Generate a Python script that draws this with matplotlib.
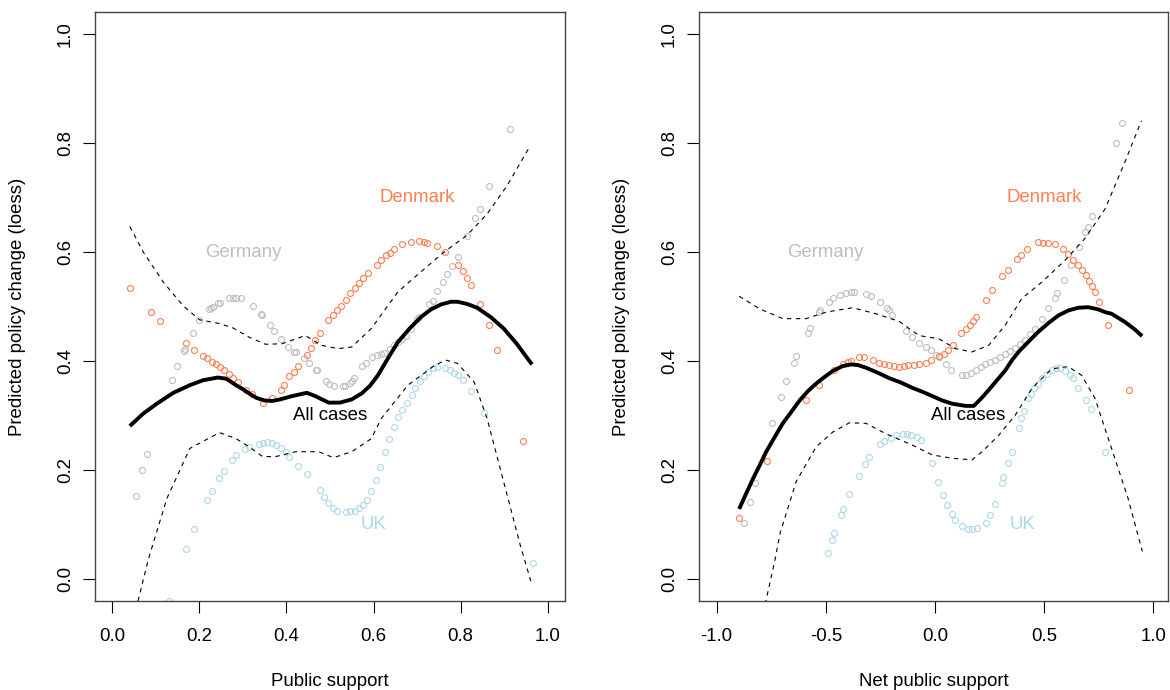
import matplotlib
matplotlib.use("Agg")
import matplotlib.pyplot as plt

plt.rcParams["font.family"] = ["Liberation Sans", "DejaVu Sans"]

# colours (R names: coral, grey, lightblue)
col_dk = "#FF7F50"
col_de = "#BEBEBE"
col_uk = "#ADD8E6"

# ---- left panel: public support ----
ps_de_x = [0.055, 0.069, 0.080, 0.136, 0.149, 0.165, 0.166, 0.185, 0.200, 0.222, 0.227, 0.231,
           0.242, 0.248, 0.269, 0.276, 0.284, 0.295, 0.324, 0.341, 0.343, 0.362, 0.371, 0.388,
           0.403, 0.418, 0.422, 0.440, 0.451, 0.468, 0.471, 0.491, 0.497, 0.510, 0.531, 0.535,
           0.545, 0.550, 0.555, 0.574, 0.582, 0.597, 0.607, 0.617, 0.624, 0.637, 0.647, 0.656,
           0.665, 0.675, 0.685, 0.700, 0.705, 0.728, 0.736, 0.747, 0.759, 0.768, 0.781, 0.793,
           0.814, 0.834, 0.844, 0.865, 0.913]
ps_de_y = [0.153, 0.201, 0.230, 0.365, 0.391, 0.419, 0.423, 0.452, 0.475, 0.496, 0.498, 0.500,
           0.507, 0.507, 0.515, 0.515, 0.515, 0.515, 0.502, 0.487, 0.484, 0.467, 0.455, 0.440,
           0.426, 0.417, 0.417, 0.406, 0.396, 0.383, 0.383, 0.363, 0.359, 0.355, 0.355, 0.355,
           0.360, 0.363, 0.370, 0.391, 0.396, 0.408, 0.411, 0.414, 0.415, 0.423, 0.429, 0.435,
           0.441, 0.447, 0.459, 0.478, 0.481, 0.504, 0.511, 0.528, 0.545, 0.559, 0.575, 0.591,
           0.629, 0.663, 0.679, 0.721, 0.825]

ps_dk_x = [0.040, 0.088, 0.109, 0.169, 0.188, 0.208, 0.217, 0.229, 0.238, 0.248, 0.257, 0.269,
           0.278, 0.289, 0.306, 0.320, 0.345, 0.366, 0.388, 0.394, 0.405, 0.417, 0.427, 0.447,
           0.457, 0.466, 0.476, 0.495, 0.506, 0.515, 0.525, 0.536, 0.547, 0.557, 0.566, 0.576,
           0.588, 0.607, 0.618, 0.629, 0.637, 0.647, 0.665, 0.686, 0.705, 0.715, 0.724, 0.745,
           0.764, 0.795, 0.806, 0.815, 0.825, 0.844, 0.865, 0.884, 0.943]
ps_dk_y = [0.535, 0.490, 0.474, 0.433, 0.421, 0.410, 0.405, 0.399, 0.394, 0.390, 0.384, 0.377,
           0.370, 0.361, 0.347, 0.339, 0.324, 0.332, 0.348, 0.356, 0.372, 0.381, 0.391, 0.412,
           0.424, 0.438, 0.452, 0.476, 0.485, 0.493, 0.502, 0.513, 0.525, 0.534, 0.543, 0.552,
           0.562, 0.577, 0.586, 0.594, 0.599, 0.605, 0.614, 0.618, 0.620, 0.618, 0.617, 0.612,
           0.601, 0.577, 0.566, 0.552, 0.539, 0.505, 0.466, 0.420, 0.254]

ps_uk_x = [0.130, 0.169, 0.188, 0.217, 0.228, 0.246, 0.257, 0.274, 0.285, 0.304, 0.314, 0.337,
           0.346, 0.356, 0.366, 0.377, 0.388, 0.398, 0.405, 0.427, 0.447, 0.476, 0.487, 0.495,
           0.506, 0.515, 0.536, 0.547, 0.557, 0.567, 0.576, 0.586, 0.595, 0.606, 0.616, 0.626,
           0.636, 0.646, 0.656, 0.666, 0.677, 0.688, 0.696, 0.707, 0.717, 0.726, 0.736, 0.747,
           0.764, 0.776, 0.785, 0.795, 0.806, 0.825, 0.853, 0.967]
ps_uk_y = [-0.040, 0.055, 0.093, 0.145, 0.161, 0.186, 0.198, 0.219, 0.228, 0.239, 0.243, 0.249,
           0.250, 0.251, 0.250, 0.246, 0.240, 0.233, 0.225, 0.208, 0.194, 0.164, 0.151, 0.140,
           0.131, 0.126, 0.124, 0.125, 0.126, 0.131, 0.137, 0.146, 0.161, 0.183, 0.206, 0.234,
           0.258, 0.280, 0.297, 0.310, 0.324, 0.338, 0.351, 0.363, 0.373, 0.381, 0.388, 0.389,
           0.388, 0.383, 0.379, 0.374, 0.366, 0.345, 0.305, 0.030]

ps_fit_x = [0.040, 0.071, 0.102, 0.140, 0.178, 0.208, 0.242, 0.261, 0.284, 0.299, 0.314, 0.330,
            0.349, 0.367, 0.386, 0.413, 0.447, 0.466, 0.497, 0.523, 0.550, 0.573, 0.592, 0.610,
            0.633, 0.656, 0.683, 0.709, 0.732, 0.755, 0.778, 0.793, 0.815, 0.838, 0.869, 0.899,
            0.929, 0.964]
ps_fit_y = [0.281, 0.304, 0.322, 0.342, 0.356, 0.365, 0.370, 0.368, 0.356, 0.349, 0.341, 0.333,
            0.328, 0.327, 0.330, 0.336, 0.342, 0.336, 0.324, 0.324, 0.330, 0.341, 0.355, 0.374,
            0.405, 0.435, 0.460, 0.481, 0.495, 0.504, 0.509, 0.509, 0.505, 0.498, 0.481, 0.460,
            0.432, 0.394]

ps_hi_x = [0.040, 0.071, 0.117, 0.162, 0.200, 0.246, 0.277, 0.314, 0.352, 0.390, 0.443, 0.481,
           0.519, 0.550, 0.595, 0.656, 0.709, 0.762, 0.815, 0.861, 0.907, 0.960]
ps_hi_y = [0.647, 0.600, 0.545, 0.502, 0.476, 0.469, 0.461, 0.444, 0.431, 0.432, 0.447, 0.429,
           0.423, 0.426, 0.460, 0.527, 0.564, 0.600, 0.631, 0.670, 0.722, 0.795]

ps_lo_x = [0.040, 0.057, 0.082, 0.125, 0.178, 0.246, 0.284, 0.314, 0.345, 0.375, 0.421, 0.474,
           0.508, 0.550, 0.595, 0.618, 0.679, 0.740, 0.766, 0.793, 0.831, 0.861, 0.899, 0.937, 0.964]
ps_lo_y = [-0.120, -0.046, 0.035, 0.148, 0.240, 0.269, 0.258, 0.243, 0.225, 0.225, 0.234, 0.234,
           0.223, 0.234, 0.258, 0.295, 0.356, 0.392, 0.402, 0.396, 0.362, 0.295, 0.179, 0.063, -0.010]

# ---- right panel: net public support ----
np_de_x = [-0.874, -0.849, -0.826, -0.745, -0.707, -0.681, -0.646, -0.635, -0.582, -0.572, -0.533,
           -0.525, -0.486, -0.468, -0.433, -0.407, -0.384, -0.369, -0.316, -0.293, -0.252, -0.220,
           -0.210, -0.195, -0.134, -0.103, -0.073, -0.043, -0.020, 0.003, 0.018, 0.049, 0.075,
           0.122, 0.140, 0.163, 0.186, 0.209, 0.231, 0.254, 0.277, 0.300, 0.322, 0.345, 0.368,
           0.391, 0.414, 0.437, 0.459, 0.490, 0.520, 0.550, 0.558, 0.591, 0.622, 0.660, 0.687,
           0.700, 0.721, 0.829, 0.858]
np_de_y = [0.104, 0.142, 0.176, 0.287, 0.335, 0.363, 0.397, 0.410, 0.452, 0.461, 0.490, 0.493,
           0.509, 0.515, 0.522, 0.525, 0.527, 0.526, 0.524, 0.520, 0.509, 0.498, 0.493, 0.484,
           0.455, 0.444, 0.433, 0.426, 0.420, 0.412, 0.408, 0.394, 0.383, 0.374, 0.375, 0.378,
           0.384, 0.390, 0.394, 0.398, 0.402, 0.408, 0.413, 0.419, 0.425, 0.431, 0.439, 0.450,
           0.459, 0.478, 0.497, 0.515, 0.525, 0.548, 0.576, 0.610, 0.637, 0.646, 0.667, 0.800,
           0.836]

np_dk_x = [-0.897, -0.768, -0.590, -0.533, -0.461, -0.423, -0.400, -0.385, -0.347, -0.324, -0.283,
           -0.255, -0.233, -0.210, -0.187, -0.164, -0.141, -0.122, -0.096, -0.073, -0.043, -0.017,
           0.018, 0.041, 0.061, 0.082, 0.120, 0.140, 0.160, 0.174, 0.190, 0.234, 0.262, 0.305,
           0.335, 0.376, 0.396, 0.422, 0.471, 0.497, 0.520, 0.550, 0.585, 0.611, 0.634, 0.654,
           0.672, 0.691, 0.706, 0.718, 0.733, 0.753, 0.791, 0.890]
np_dk_y = [0.113, 0.217, 0.328, 0.356, 0.383, 0.394, 0.399, 0.400, 0.407, 0.408, 0.403, 0.396,
           0.394, 0.393, 0.391, 0.390, 0.391, 0.393, 0.393, 0.394, 0.397, 0.402, 0.409, 0.414,
           0.420, 0.429, 0.451, 0.459, 0.467, 0.473, 0.481, 0.512, 0.531, 0.557, 0.568, 0.588,
           0.594, 0.606, 0.618, 0.617, 0.617, 0.614, 0.606, 0.596, 0.586, 0.576, 0.567, 0.558,
           0.547, 0.538, 0.527, 0.508, 0.467, 0.348]

np_uk_x = [-0.491, -0.473, -0.461, -0.430, -0.422, -0.392, -0.349, -0.321, -0.304, -0.252, -0.233,
           -0.202, -0.179, -0.146, -0.126, -0.108, -0.081, -0.065, -0.015, 0.015, 0.037, 0.056,
           0.076, 0.094, 0.125, 0.152, 0.170, 0.193, 0.234, 0.251, 0.274, 0.305, 0.312, 0.335,
           0.353, 0.383, 0.394, 0.406, 0.426, 0.440, 0.452, 0.472, 0.490, 0.513, 0.535, 0.555,
           0.573, 0.596, 0.619, 0.634, 0.657, 0.690, 0.713, 0.781]
np_uk_y = [0.048, 0.072, 0.084, 0.117, 0.129, 0.156, 0.189, 0.211, 0.225, 0.249, 0.254, 0.260,
           0.264, 0.267, 0.267, 0.265, 0.261, 0.255, 0.214, 0.179, 0.155, 0.136, 0.119, 0.108,
           0.097, 0.093, 0.093, 0.094, 0.104, 0.118, 0.138, 0.176, 0.188, 0.214, 0.234, 0.278,
           0.295, 0.308, 0.332, 0.340, 0.351, 0.358, 0.369, 0.377, 0.383, 0.388, 0.387, 0.382,
           0.375, 0.369, 0.351, 0.328, 0.312, 0.234]

np_fit_x = [-0.897, -0.864, -0.833, -0.803, -0.773, -0.734, -0.697, -0.658, -0.620, -0.582, -0.544,
            -0.506, -0.468, -0.423, -0.385, -0.354, -0.316, -0.263, -0.210, -0.157, -0.103, -0.058,
            -0.012, 0.033, 0.079, 0.125, 0.140, 0.178, 0.208, 0.246, 0.284, 0.322, 0.353, 0.383,
            0.429, 0.474, 0.520, 0.566, 0.611, 0.657, 0.702, 0.748, 0.779, 0.809, 0.870, 0.916, 0.949]
np_fit_y = [0.129, 0.158, 0.185, 0.209, 0.234, 0.261, 0.286, 0.307, 0.328, 0.345, 0.359,
            0.371, 0.382, 0.391, 0.394, 0.393, 0.388, 0.379, 0.369, 0.361, 0.351, 0.344,
            0.336, 0.328, 0.322, 0.319, 0.318, 0.318, 0.330, 0.347, 0.365, 0.383, 0.402, 0.417,
            0.436, 0.454, 0.470, 0.484, 0.493, 0.498, 0.499, 0.495, 0.490, 0.487, 0.472, 0.458, 0.446]

np_hi_x = [-0.897, -0.803, -0.697, -0.590, -0.499, -0.377, -0.271, -0.164, -0.073, 0.018, 0.094,
           0.170, 0.246, 0.322, 0.398, 0.490, 0.596, 0.687, 0.779, 0.870, 0.946]
np_hi_y = [0.519, 0.496, 0.478, 0.478, 0.490, 0.498, 0.487, 0.473, 0.447, 0.441, 0.423, 0.417,
           0.429, 0.466, 0.515, 0.545, 0.585, 0.625, 0.679, 0.765, 0.841]

np_lo_x = [-0.897, -0.778, -0.733, -0.710, -0.636, -0.544, -0.468, -0.392, -0.316, -0.225, -0.103,
           -0.012, 0.079, 0.170, 0.216, 0.292, 0.368, 0.444, 0.535, 0.611, 0.672, 0.733, 0.809,
           0.885, 0.950]
np_lo_y = [-0.260, -0.046, 0.035, 0.084, 0.179, 0.243, 0.270, 0.287, 0.286, 0.267, 0.246, 0.228,
           0.222, 0.219, 0.234, 0.264, 0.301, 0.350, 0.386, 0.390, 0.374, 0.332, 0.240, 0.148, 0.051]

y_ticks = [0.0, 0.2, 0.4, 0.6, 0.8, 1.0]
ps_ticks = [0.0, 0.2, 0.4, 0.6, 0.8, 1.0]
np_ticks = [-1.0, -0.5, 0.0, 0.5, 1.0]

FS = 13.4
W, H = 1170, 690
fig = plt.figure(figsize=(W / 100, H / 100), dpi=100)
ax1 = fig.add_axes([95 / W, (H - 601.1) / H, 470 / W, 588.9 / H])
ax2 = fig.add_axes([699.2 / W, (H - 601.1) / H, 469.1 / W, 588.9 / H])


def draw_panel(ax, pts, fit, hi, lo, labels, xlim, xticks, xlabel):
    for (x, y, c) in pts:
        ax.plot(x, y, "o", ms=4.3, mfc="none", mec=c, mew=0.8, zorder=2)
    ax.plot(hi[0], hi[1], color="black", lw=0.8, dashes=(4, 4), zorder=3)
    ax.plot(lo[0], lo[1], color="black", lw=0.8, dashes=(4, 4), zorder=3)
    ax.plot(fit[0], fit[1], color="black", lw=2.8, solid_capstyle="butt",
            solid_joinstyle="round", zorder=4)
    for (tx, ty, s, c) in labels:
        ax.text(tx, ty, s, color=c, fontsize=FS, ha="center", va="center", zorder=5)
    ax.set_xlim(*xlim)
    ax.set_ylim(-0.04, 1.04)
    ax.set_xticks(xticks)
    ax.set_xticklabels([f"{t:.1f}" for t in xticks], fontsize=FS)
    ax.set_yticks(y_ticks)
    ax.set_yticklabels([f"{t:.1f}" for t in y_ticks], fontsize=FS, rotation=90, va="center")
    ax.tick_params(axis="x", direction="out", length=8.4, width=0.8, pad=11)
    ax.tick_params(axis="y", direction="out", length=8.4, width=0.8, pad=6.8)
    for sp in ax.spines.values():
        sp.set_color("#444444")
        sp.set_linewidth(1.0)
    ax.set_xlabel(xlabel, fontsize=FS)
    ax.set_ylabel("Predicted policy change (loess)", fontsize=FS)
    ax.xaxis.set_label_coords(0.5, -0.122)
    ax.yaxis.set_label_coords(-0.147, 0.5)


draw_panel(
    ax1,
    [(ps_de_x, ps_de_y, col_de), (ps_dk_x, ps_dk_y, col_dk), (ps_uk_x, ps_uk_y, col_uk)],
    (ps_fit_x, ps_fit_y), (ps_hi_x, ps_hi_y), (ps_lo_x, ps_lo_y),
    [(0.7, 0.7, "Denmark", col_dk), (0.3, 0.6, "Germany", col_de),
     (0.5, 0.3, "All cases", "black"), (0.6, 0.1, "UK", col_uk)],
    (-0.04, 1.04), ps_ticks, "Public support",
)

draw_panel(
    ax2,
    [(np_de_x, np_de_y, col_de), (np_dk_x, np_dk_y, col_dk), (np_uk_x, np_uk_y, col_uk)],
    (np_fit_x, np_fit_y), (np_hi_x, np_hi_y), (np_lo_x, np_lo_y),
    [(0.5, 0.7, "Denmark", col_dk), (-0.5, 0.6, "Germany", col_de),
     (0.15, 0.3, "All cases", "black"), (0.4, 0.1, "UK", col_uk)],
    (-1.08, 1.069), np_ticks, "Net public support",
)

fig.savefig("out.png", dpi=100)
